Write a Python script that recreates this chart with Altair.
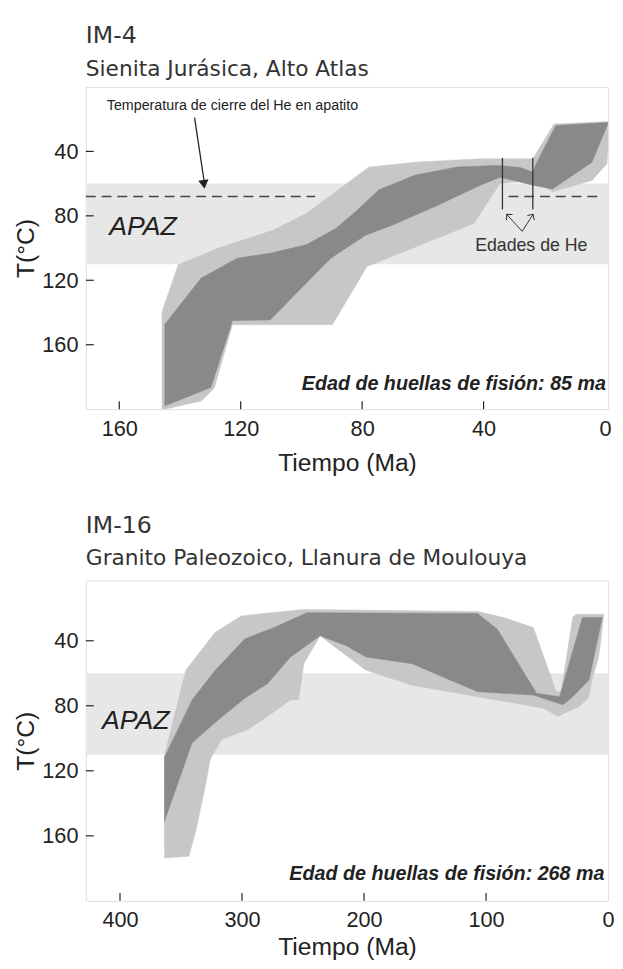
import altair as alt
import pandas as pd

# ---------------- data: panel IM-4 (Ma, degC) ----------------
im4_light_ma = [146.0, 140.6, 127.6, 109.2, 98.4, 88.7, 77.9, 62.7, 41.1, 23.8, 16.8, -1.6,
                -0.6, 4.3, 17.3, 23.8, 34.6, 43.2, 78.4, 89.8, 122.7, 128.7, 133.0, 145.1, 146.0]
im4_light_t = [140, 110.4, 100.2, 88.8, 78.5, 65, 49.8, 46.7, 44.6, 44.6, 23, 21.4,
               47.7, 58, 65, 58, 60, 84.7, 111.5, 147.6, 147.6, 187, 195, 200, 200]
im4_dark_ma = [145.1, 133.0, 121.1, 110.3, 98.4, 88.7, 82.2, 74.6, 62.7, 48.7, 35.7, 28.0, 23.8,
               22.7, 16.2, -1.1, 4.3, 17.3, 23.8, 34.6, 41.1, 55.1, 70.3, 78.9, 90.3, 99.5,
               110.3, 122.7, 129.8, 145.1]
im4_dark_t = [147.6, 118.6, 106.3, 103.2, 98, 87.8, 77.5, 64, 54.8, 49.7, 48.7, 50, 53,
              47.7, 24, 22, 46.7, 63.3, 61, 56, 61, 73.5, 86, 92, 106.3, 123.8,
              144.6, 145, 186.5, 198]
im4_he_ages = [33.8, 23.8]
im4_he_t = [44, 76]
closure_from = [171.0, 31.8]
closure_to = [95.5, 0.6]

# ---------------- data: panel IM-16 (Ma, degC) ----------------
im16_light_ma = [364, 346, 322, 300.6, 249.4, 107, 85.5, 61.3, 42.5, 38.5, 29, 26.4, 3.5,
                 6.5, 8, 12.9, 16, 23.6, 41.1, 53.2, 107, 160.7, 198.4, 225.3, 236,
                 249.4, 253.5, 260.3, 279, 295.2, 316.7, 326, 330, 338, 343.6, 363.7]
im16_light_t = [112, 58, 34.8, 24.7, 20.7, 22, 25.7, 31.8, 71.3, 71.3, 25.7, 23.7, 23.7,
                43, 51, 63, 75, 80.4, 86.5, 81.5, 74.4, 67.3, 58.2, 43, 36.9,
                54.1, 76, 76.4, 86.5, 94.6, 100.7, 112.9, 129, 157.4, 172.6, 173.7]
im16_dark_ma = [363.7, 340.9, 322, 297.8, 273.6, 246.8, 107, 90.9, 58.6, 39.8, 21, 4.8,
                15.6, 29, 37.1, 61.3, 107, 160.7, 198.4, 214.5, 236, 260.3, 279, 297.8,
                319.4, 340.9, 363.7]
im16_dark_t = [111.9, 76.4, 58.2, 38.9, 31.8, 22.7, 23.3, 32.8, 72.3, 74.4, 25.7, 25.7,
               64.2, 74.4, 79.4, 73.4, 71.3, 54.1, 50, 43, 36.9, 50, 66.3, 75.4,
               88.6, 102.7, 151.4]

# ---------------- shared ----------------
apaz_t = [60, 110]
closure_t = 68
temp_ticks = [40, 80, 120, 160]
im4_time_ticks = [160, 120, 80, 40, 0]
im16_time_ticks = [400, 300, 200, 100, 0]

LIGHT = "#c7c7c9"
DARK = "#89898c"
BAND = "#e7e7e7"
INK = "#222222"
W = 530

LBL_FONT = "Liberation Sans"
TTL_FONT = "DejaVu Sans"


def poly(ma, t):
    return pd.DataFrame({"ma": ma, "t": t, "i": list(range(len(ma)))})


def panel(title, subtitle, xdom, height, ydom, light, dark, xticks, fission_label,
          fission_pos, apaz_pos, extras, sub_pad, offset, x_lab_pad, x_title_pad):
    xs = alt.Scale(domain=xdom, reverse=True, nice=False, zero=False)
    ys = alt.Scale(domain=ydom, reverse=True, nice=False, zero=False)
    xaxis = alt.Axis(values=xticks, ticks=False, domain=False, grid=False, labelFont=LBL_FONT,
                     labelFontSize=22, labelColor=INK, labelPadding=x_lab_pad, labelFlush=False,
                     title="Tiempo (Ma)", titleFont=LBL_FONT, titleFontSize=25,
                     titleFontWeight="normal", titleColor=INK, titlePadding=x_title_pad)
    yaxis = alt.Axis(values=temp_ticks, ticks=False, domain=False, grid=False, labelFont=LBL_FONT,
                     labelFontSize=22, labelColor=INK, labelPadding=8, title="T(°C)",
                     titleFont=LBL_FONT, titleFontSize=25, titleFontWeight="normal",
                     titleColor=INK, titlePadding=3)

    def X(f="ma"):
        return alt.X(f + ":Q", scale=xs, axis=xaxis)

    def Y(f="t"):
        return alt.Y(f + ":Q", scale=ys, axis=yaxis)

    band = alt.Chart(pd.DataFrame({"t": [apaz_t[0]], "t2": [apaz_t[1]]})).mark_rect(
        color=BAND).encode(x=alt.value(0), x2=alt.value(W), y=Y(), y2="t2:Q")
    layers = [band] + extras.get("under", [])
    lp = alt.Chart(poly(*light)).mark_line(fill=LIGHT, stroke=LIGHT, strokeWidth=0.5,
                                           clip=True).encode(x=X(), y=Y(), order="i:Q")
    dp = alt.Chart(poly(*dark)).mark_line(fill=DARK, stroke=DARK, strokeWidth=0.5,
                                          clip=True).encode(x=X(), y=Y(), order="i:Q")
    layers += [lp, dp]
    layers += extras.get("over", [])

    xt = alt.Chart(pd.DataFrame({"ma": xticks[:-1]})).mark_rule(color=INK, strokeWidth=1.2).encode(
        x=X(), y=alt.value(height), y2=alt.value(height - 8))
    yt = alt.Chart(pd.DataFrame({"t": temp_ticks})).mark_rule(color=INK, strokeWidth=1.2).encode(
        y=Y(), x=alt.value(0), x2=alt.value(8))
    apaz = alt.Chart(pd.DataFrame({"ma": [apaz_pos[0]], "t": [apaz_pos[1]], "s": ["APAZ"]})).mark_text(
        font=LBL_FONT, fontSize=27, fontStyle="italic", align="left", baseline="middle",
        color=INK).encode(x=X(), y=Y(), text="s:N")
    fis = alt.Chart(pd.DataFrame({"ma": [fission_pos[0]], "t": [fission_pos[1]],
                                  "s": [fission_label]})).mark_text(
        font=LBL_FONT, fontSize=20, fontStyle="italic", fontWeight="bold", align="right",
        baseline="middle", color=INK).encode(x=X(), y=Y(), text="s:N")
    layers += [xt, yt, apaz, fis]

    return alt.layer(*layers).properties(
        width=W, height=height,
        title=alt.TitleParams(text=title, subtitle=subtitle, anchor="start", frame="group",
                              font=TTL_FONT, fontSize=24, fontWeight="normal", color="#333333",
                              subtitleFont=TTL_FONT, subtitleFontSize=22,
                              subtitleColor="#333333", subtitlePadding=sub_pad, offset=offset))


# extras for IM-4
dash = alt.Chart(pd.DataFrame({"ma": closure_from, "ma2": closure_to,
                               "t": [closure_t] * 2})).mark_rule(
    color="#444444", strokeWidth=1.3, strokeDash=[10, 6]).encode(
    x="ma:Q", x2="ma2:Q", y=alt.Y("t:Q"))
he_lines = alt.Chart(pd.DataFrame({"ma": im4_he_ages, "t": [im4_he_t[0]] * 2,
                                   "t2": [im4_he_t[1]] * 2})).mark_rule(
    color="#333333", strokeWidth=1.3).encode(x="ma:Q", y="t:Q", y2="t2:Q")
chev = alt.Chart(pd.DataFrame({"ma": [27.3, 27.3], "t": [89.6, 89.6],
                               "ma2": [32.4, 23.7], "t2": [79.1, 79.1]})).mark_rule(
    color="#333333", strokeWidth=1).encode(x="ma:Q", y="t:Q", x2="ma2:Q", y2="t2:Q")
chev_heads = alt.Chart(pd.DataFrame({"ma": [32.4, 23.7], "t": [79.1, 79.1],
                                     "ang": [317, 33]})).mark_point(
    shape="M-1,1L0,0L1,1", filled=False, color="#333333", strokeWidth=1, size=70, opacity=1).encode(
    x="ma:Q", y="t:Q", angle=alt.Angle("ang:Q", scale=None))
he_text = alt.Chart(pd.DataFrame({"ma": [24.3], "t": [98.8], "s": ["Edades de He"]})).mark_text(
    font=LBL_FONT, fontSize=18, color="#333333", baseline="middle").encode(
    x="ma:Q", y="t:Q", text="s:N")
cl_text = alt.Chart(pd.DataFrame({"ma": [164.1], "t": [11.7],
                                  "s": ["Temperatura de cierre del He en apatito"]})).mark_text(
    font=LBL_FONT, fontSize=14.5, color=INK, align="left", baseline="middle").encode(
    x="ma:Q", y="t:Q", text="s:N")
cl_arrow = alt.Chart(pd.DataFrame({"ma": [135.2], "t": [19.0], "ma2": [132.0],
                                   "t2": [59.0]})).mark_rule(color=INK, strokeWidth=1.3).encode(
    x="ma:Q", y="t:Q", x2="ma2:Q", y2="t2:Q")
cl_head = alt.Chart(pd.DataFrame({"ma": [132.1], "t": [60.5], "ang": [352]})).mark_point(
    shape="triangle-down", filled=True, color=INK, size=110, opacity=1).encode(
    x="ma:Q", y="t:Q", angle=alt.Angle("ang:Q", scale=None))

top = panel("IM-4", "Sienita Jurásica, Alto Atlas", [-1, 171], 327, [0, 200],
            (im4_light_ma, im4_light_t), (im4_dark_ma, im4_dark_t), im4_time_ticks,
            "Edad de huellas de fisión: 85 ma", (-0.3, 184.5), (163.3, 87.1),
            {"under": [dash], "over": [he_lines, chev, chev_heads, he_text, cl_text, cl_arrow, cl_head]},
            12, 7, 10, 11)

bottom = panel("IM-16", "Granito Paleozoico, Llanura de Moulouya", [0, 428], 325, [3, 200],
               (im16_light_ma, im16_light_t), (im16_dark_ma, im16_dark_t), im16_time_ticks,
               "Edad de huellas de fisión: 268 ma", (3.0, 183.8), (414.8, 89.4), {},
               10, 12, 9, 4)

chart = alt.vconcat(top, bottom, spacing=38).properties(
    padding={"left": 5, "top": 8, "right": 0, "bottom": 0}
).configure_view(stroke="#4a4a4a", strokeWidth=1.5).configure(background="white")

chart.save("out.html", embed_options={"renderer": "svg", "actions": False})
